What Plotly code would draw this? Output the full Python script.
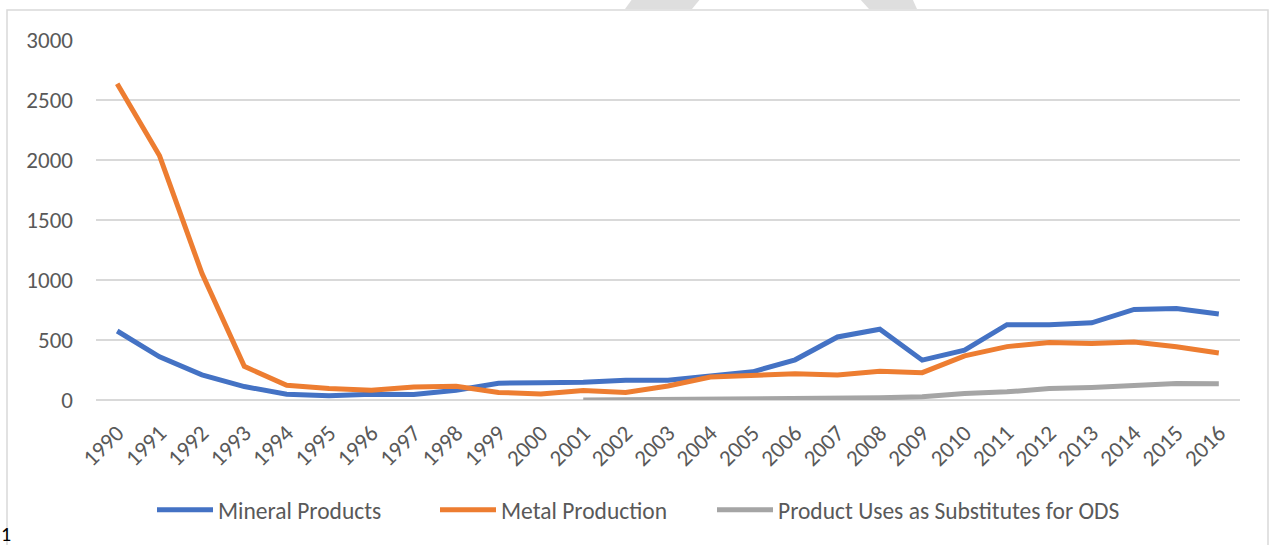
import plotly.graph_objects as go

years = [str(y) for y in range(1990, 2017)]
mineral = [575, 360, 210, 112, 48, 35, 48, 45, 82, 140,
           143, 147, 165, 165, 200, 235, 335, 525, 590, 332,
           415, 628, 628, 643, 755, 762, 717]
metal = [2635, 2035, 1055, 280, 122, 95, 82, 108, 115, 63,
         50, 80, 62, 117, 192, 205, 218, 209, 240, 228,
         368, 445, 480, 470, 484, 443, 391]
ods_years = [str(y) for y in range(2001, 2017)]
ods = [1, 2, 4, 6, 8, 9, 12, 18, 28, 55, 68, 95, 105, 122, 137, 135]
series_names = ["Mineral Products", "Metal Production", "Product Uses as Substitutes for ODS"]
y_ticks = [0, 500, 1000, 1500, 2000, 2500, 3000]

W, H = 1271, 545
ML, MR, MT, MB = 96, 31, 40, 145
PW, PH = W - ML - MR, H - MT - MB


def px(x):
    return (x - ML) / PW


def py(y):
    return (H - MB - y) / PH


FONT = "Calibri, Carlito, Lato, sans-serif"
TXT = "#595959"
FS = 23
LW = 5

fig = go.Figure()
fig.add_trace(go.Scatter(x=years, y=mineral, name=series_names[0], mode="lines",
                         line=dict(color="#4472C4", width=LW), legend="legend"))
fig.add_trace(go.Scatter(x=years, y=metal, name=series_names[1], mode="lines",
                         line=dict(color="#ED7D31", width=LW), legend="legend2"))
fig.add_trace(go.Scatter(x=ods_years, y=ods, name=series_names[2], mode="lines",
                         line=dict(color="#A5A5A5", width=LW), legend="legend3"))

shapes = [
    dict(type="rect", xref="paper", yref="paper", x0=px(7), x1=px(1268), y0=py(560), y1=py(10),
         line=dict(color="#D9D9D9", width=1.5), fillcolor="rgba(0,0,0,0)", layer="below"),
    dict(type="path", xref="paper", yref="paper",
         path=f"M{px(633)},{py(-2)} L{px(701)},{py(-2)} L{px(692)},{py(9)} L{px(625)},{py(9)} Z",
         fillcolor="#DEDEDE", line=dict(width=0)),
    dict(type="path", xref="paper", yref="paper",
         path=f"M{px(859)},{py(-2)} L{px(912)},{py(-2)} L{px(917)},{py(9)} L{px(869)},{py(9)} Z",
         fillcolor="#DEDEDE", line=dict(width=0)),
]


def leg(x_left):
    return dict(orientation="h", x=px(x_left), xanchor="left", y=py(510), yanchor="middle",
                font=dict(family=FONT, size=23.5, color=TXT), itemwidth=56,
                bgcolor="rgba(0,0,0,0)")


fig.update_layout(
    width=W, height=H, autosize=False,
    margin=dict(l=ML, r=MR, t=MT, b=MB),
    paper_bgcolor="white", plot_bgcolor="white",
    font=dict(family=FONT, size=FS, color=TXT),
    showlegend=True,
    legend=leg(152), legend2=leg(435), legend3=leg(712),
    xaxis=dict(type="category", categoryorder="array", categoryarray=years,
               range=[-0.5, len(years) - 0.5], showgrid=False, showline=False,
               zeroline=False, ticks="", tickangle=-45, ticklabelstandoff=14,
               tickfont=dict(family=FONT, size=FS, color=TXT)),
    yaxis=dict(range=[0, 3000], tickvals=y_ticks, showgrid=True, gridcolor="#D9D9D9",
               gridwidth=1.5, zeroline=True, zerolinecolor="#D9D9D9", zerolinewidth=1.5,
               showline=False, ticks="", ticklabelstandoff=22,
               tickfont=dict(family=FONT, size=FS, color=TXT)),
    shapes=shapes,
    annotations=[dict(text="1", xref="paper", yref="paper", x=px(-1), y=py(534),
                      xanchor="left", yanchor="middle", showarrow=False,
                      font=dict(family=FONT, size=20, color="#000000"))],
)

fig.write_html("out.html", config={"displayModeBar": False},
               post_script="document.body.style.margin='0';document.body.style.overflow='hidden';")
